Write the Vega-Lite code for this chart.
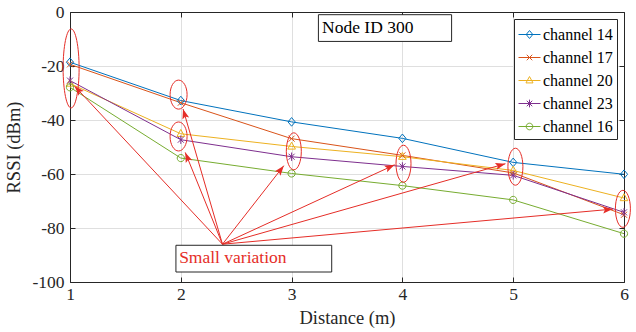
{
  "$schema": "https://vega.github.io/schema/vega-lite/v6.json",
  "width": 554,
  "height": 270,
  "autosize": "none",
  "padding": {"left": 70, "top": 12, "right": 12, "bottom": 50},
  "background": "white",
  "config": {
    "view": {"stroke": null},
    "font": "Liberation Serif",
    "axis": {
      "labelFont": "Liberation Serif",
      "titleFont": "Liberation Serif",
      "labelFontSize": 17.5,
      "titleFontSize": 18.5,
      "titleFontWeight": "normal",
      "labelColor": "#262626",
      "titleColor": "#262626",
      "domainColor": "#262626",
      "tickColor": "#262626",
      "gridColor": "#dfdfdf",
      "tickSize": -5
    }
  },
  "datasets": {
    "rssi": [
      {"distance": 1, "rssi": -18.6, "channel": "channel 14"},
      {"distance": 2, "rssi": -32.8, "channel": "channel 14"},
      {"distance": 3, "rssi": -40.7, "channel": "channel 14"},
      {"distance": 4, "rssi": -46.8, "channel": "channel 14"},
      {"distance": 5, "rssi": -55.7, "channel": "channel 14"},
      {"distance": 6, "rssi": -60.1, "channel": "channel 14"},
      {"distance": 1, "rssi": -19.4, "channel": "channel 17"},
      {"distance": 2, "rssi": -33.6, "channel": "channel 17"},
      {"distance": 3, "rssi": -46.9, "channel": "channel 17"},
      {"distance": 4, "rssi": -53.1, "channel": "channel 17"},
      {"distance": 5, "rssi": -59.6, "channel": "channel 17"},
      {"distance": 6, "rssi": -75.1, "channel": "channel 17"},
      {"distance": 1, "rssi": -26.5, "channel": "channel 20"},
      {"distance": 2, "rssi": -45.1, "channel": "channel 20"},
      {"distance": 3, "rssi": -49.8, "channel": "channel 20"},
      {"distance": 4, "rssi": -53.6, "channel": "channel 20"},
      {"distance": 5, "rssi": -58.7, "channel": "channel 20"},
      {"distance": 6, "rssi": -68.9, "channel": "channel 20"},
      {"distance": 1, "rssi": -25.4, "channel": "channel 23"},
      {"distance": 2, "rssi": -47.3, "channel": "channel 23"},
      {"distance": 3, "rssi": -53.6, "channel": "channel 23"},
      {"distance": 4, "rssi": -57.2, "channel": "channel 23"},
      {"distance": 5, "rssi": -60.5, "channel": "channel 23"},
      {"distance": 6, "rssi": -74.2, "channel": "channel 23"},
      {"distance": 1, "rssi": -27.9, "channel": "channel 16"},
      {"distance": 2, "rssi": -54.1, "channel": "channel 16"},
      {"distance": 3, "rssi": -59.8, "channel": "channel 16"},
      {"distance": 4, "rssi": -64.3, "channel": "channel 16"},
      {"distance": 5, "rssi": -69.6, "channel": "channel 16"},
      {"distance": 6, "rssi": -82.1, "channel": "channel 16"}
    ],
    "ellipses": [
      {"distance": 1.01, "rssi": -20.9, "kind": "tall"},
      {"distance": 1.98, "rssi": -30.6, "kind": "short"},
      {"distance": 1.98, "rssi": -46.1, "kind": "short"},
      {"distance": 3.02, "rssi": -51.6, "kind": "mid"},
      {"distance": 4.01, "rssi": -56.2, "kind": "mid"},
      {"distance": 5.02, "rssi": -57.3, "kind": "mid"},
      {"distance": 5.99, "rssi": -72.9, "kind": "mid"}
    ],
    "arrows": [
      {"x1": 2.376, "y1": -86.0, "x2": 1.04, "y2": -27.4},
      {"x1": 2.376, "y1": -86.0, "x2": 2.02, "y2": -35.9},
      {"x1": 2.376, "y1": -86.0, "x2": 2.04, "y2": -52.0},
      {"x1": 2.376, "y1": -86.0, "x2": 2.93, "y2": -56.9},
      {"x1": 2.376, "y1": -86.0, "x2": 3.93, "y2": -56.6},
      {"x1": 2.376, "y1": -86.0, "x2": 4.93, "y2": -56.2},
      {"x1": 2.376, "y1": -86.0, "x2": 5.90, "y2": -73.0}
    ],
    "boxes": [
      {"x": 3.242, "x2": 4.444, "y": -1.0, "y2": -10.9, "tx": 3.275, "ty": -5.9, "label": "Node ID 300", "role": "title"},
      {"x": 1.956, "x2": 3.362, "y": -86.4, "y2": -96.3, "tx": 1.985, "ty": -91.2, "label": "Small variation", "role": "note"}
    ]
  },
  "resolve": {"axis": {"x": "independent", "y": "independent"}},
  "layer": [
    {
      "data": {"name": "rssi"},
      "mark": {"type": "line", "strokeWidth": 1, "clip": true},
      "encoding": {
        "x": {"field": "distance", "type": "quantitative",
              "scale": {"domain": [1, 6], "nice": false, "zero": false},
              "axis": {"title": "Distance (m)", "values": [1, 2, 3, 4, 5, 6], "grid": true, "labelPadding": 8, "titlePadding": 6, "labelFlush": false}},
        "y": {"field": "rssi", "type": "quantitative",
              "scale": {"domain": [-100, 0], "nice": false, "zero": false},
              "axis": {"title": "RSSI (dBm)", "values": [-100, -80, -60, -40, -20, 0], "grid": true, "labelPadding": 11, "titlePadding": 8, "labelExpr": "'' + datum.value"}},
        "color": {"field": "channel", "type": "nominal",
                  "scale": {"domain": ["channel 14", "channel 17", "channel 20", "channel 23", "channel 16"],
                            "range": ["#0072BD", "#D95319", "#EDB120", "#7E2F8E", "#77AC30"]},
                  "legend": {
                    "orient": "top-right", "offset": 7, "title": null,
                    "padding": 4, "strokeColor": "#262626", "fillColor": "white",
                    "labelFont": "Liberation Serif", "labelFontSize": 16, "labelColor": "#000000",
                    "labelOffset": 2, "rowPadding": 3, "symbolSize": 484, "symbolStrokeWidth": 1,
                    "symbolFillColor": "transparent",
                    "labelExpr": "datum.label + '\u00a0\u00a0\u00a0\u00a0'",
                    "encode": {
                      "symbols": {
                      "enter": {
                        "shape": {"signal": "datum.value === 'channel 14' ? 'M-1,0L1,0M0,-0.36L0.3,0L0,0.36L-0.3,0Z' : datum.value === 'channel 17' ? 'M-1,0L1,0M-0.25,-0.25L0.25,0.25M-0.25,0.25L0.25,-0.25' : datum.value === 'channel 20' ? 'M-1,0L1,0M0,-0.36L0.32,0.22L-0.32,0.22Z' : datum.value === 'channel 23' ? 'M-1,0L1,0M-0.25,-0.25L0.25,0.25M-0.25,0.25L0.25,-0.25M0,-0.35L0,0.35' : 'M-1,0L1,0M-0.3,0A0.3,0.3,0,1,0,0.3,0A0.3,0.3,0,1,0,-0.3,0Z'"}
                      },
                      "update": {
                      "shape": {"signal": "datum.value === 'channel 14' ? 'M-1,0L1,0M0,-0.36L0.3,0L0,0.36L-0.3,0Z' : datum.value === 'channel 17' ? 'M-1,0L1,0M-0.25,-0.25L0.25,0.25M-0.25,0.25L0.25,-0.25' : datum.value === 'channel 20' ? 'M-1,0L1,0M0,-0.36L0.32,0.22L-0.32,0.22Z' : datum.value === 'channel 23' ? 'M-1,0L1,0M-0.25,-0.25L0.25,0.25M-0.25,0.25L0.25,-0.25M0,-0.35L0,0.35' : 'M-1,0L1,0M-0.3,0A0.3,0.3,0,1,0,0.3,0A0.3,0.3,0,1,0,-0.3,0Z'"},
                      "fill": {"value": "transparent"},
                      "stroke": {"scale": "color", "field": "value"},
                      "strokeWidth": {"value": 1},
                      "size": {"value": 484}
                    }}}
                  }}
      }
    },
    {
      "data": {"name": "rssi"},
      "transform": [{"filter": "datum.channel === 'channel 14'"}],
      "mark": {"type": "point", "filled": false, "size": 576, "strokeWidth": 1, "opacity": 1, "color": "#0072BD",
               "shape": "M0,-0.36L0.3,0L0,0.36L-0.3,0Z"},
      "encoding": {
        "x": {"field": "distance", "type": "quantitative", "axis": null},
        "y": {"field": "rssi", "type": "quantitative", "axis": null}
      }
    },
    {
      "data": {"name": "rssi"},
      "transform": [{"filter": "datum.channel === 'channel 17'"}],
      "mark": {"type": "point", "filled": false, "size": 576, "strokeWidth": 1, "opacity": 1, "color": "#D95319",
               "shape": "M-0.25,-0.25L0.25,0.25M-0.25,0.25L0.25,-0.25"},
      "encoding": {
        "x": {"field": "distance", "type": "quantitative", "axis": null},
        "y": {"field": "rssi", "type": "quantitative", "axis": null}
      }
    },
    {
      "data": {"name": "rssi"},
      "transform": [{"filter": "datum.channel === 'channel 20'"}],
      "mark": {"type": "point", "filled": false, "size": 576, "strokeWidth": 1, "opacity": 1, "color": "#EDB120",
               "shape": "M0,-0.36L0.32,0.22L-0.32,0.22Z"},
      "encoding": {
        "x": {"field": "distance", "type": "quantitative", "axis": null},
        "y": {"field": "rssi", "type": "quantitative", "axis": null}
      }
    },
    {
      "data": {"name": "rssi"},
      "transform": [{"filter": "datum.channel === 'channel 23'"}],
      "mark": {"type": "point", "filled": false, "size": 576, "strokeWidth": 1, "opacity": 1, "color": "#7E2F8E",
               "shape": "M-0.25,-0.25L0.25,0.25M-0.25,0.25L0.25,-0.25M0,-0.35L0,0.35"},
      "encoding": {
        "x": {"field": "distance", "type": "quantitative", "axis": null},
        "y": {"field": "rssi", "type": "quantitative", "axis": null}
      }
    },
    {
      "data": {"name": "rssi"},
      "transform": [{"filter": "datum.channel === 'channel 16'"}],
      "mark": {"type": "point", "filled": false, "size": 576, "strokeWidth": 1, "opacity": 1, "color": "#77AC30",
               "shape": "M-0.3,0A0.3,0.3,0,1,0,0.3,0A0.3,0.3,0,1,0,-0.3,0Z"},
      "encoding": {
        "x": {"field": "distance", "type": "quantitative", "axis": null},
        "y": {"field": "rssi", "type": "quantitative", "axis": null}
      }
    },
    {
      "data": {"name": "ellipses"},
      "transform": [{"filter": "datum.kind === 'tall'"}],
      "mark": {"type": "point", "filled": false, "size": 4, "color": "#e52d27", "strokeWidth": 1, "opacity": 1,
               "shape": "M-8,0A8,39.5,0,1,0,8,0A8,39.5,0,1,0,-8,0Z"},
      "encoding": {
        "x": {"field": "distance", "type": "quantitative", "axis": null},
        "y": {"field": "rssi", "type": "quantitative", "axis": null}
      }
    },
    {
      "data": {"name": "ellipses"},
      "transform": [{"filter": "datum.kind === 'short'"}],
      "mark": {"type": "point", "filled": false, "size": 4, "color": "#e52d27", "strokeWidth": 1, "opacity": 1,
               "shape": "M-8.5,0A8.5,14.5,0,1,0,8.5,0A8.5,14.5,0,1,0,-8.5,0Z"},
      "encoding": {
        "x": {"field": "distance", "type": "quantitative", "axis": null},
        "y": {"field": "rssi", "type": "quantitative", "axis": null}
      }
    },
    {
      "data": {"name": "ellipses"},
      "transform": [{"filter": "datum.kind === 'mid'"}],
      "mark": {"type": "point", "filled": false, "size": 4, "color": "#e52d27", "strokeWidth": 1, "opacity": 1,
               "shape": "M-7.5,0A7.5,18.5,0,1,0,7.5,0A7.5,18.5,0,1,0,-7.5,0Z"},
      "encoding": {
        "x": {"field": "distance", "type": "quantitative", "axis": null},
        "y": {"field": "rssi", "type": "quantitative", "axis": null}
      }
    },
    {
      "data": {"name": "arrows"},
      "mark": {"type": "rule", "color": "#e52d27", "strokeWidth": 1},
      "encoding": {
        "x": {"field": "x1", "type": "quantitative", "axis": null},
        "y": {"field": "y1", "type": "quantitative", "axis": null},
        "x2": {"field": "x2"},
        "y2": {"field": "y2"}
      }
    },
    {
      "data": {"name": "arrows"},
      "transform": [{"calculate": "atan2((datum.x2 - datum.x1) * 110.8, (datum.y2 - datum.y1) * 2.7) * 180 / PI", "as": "ang"}],
      "mark": {"type": "point", "filled": true, "size": 4, "color": "#e52d27", "opacity": 1, "strokeWidth": 0,
               "shape": "M0,0L-3.5,10L0,8L3.5,10Z"},
      "encoding": {
        "x": {"field": "x2", "type": "quantitative", "axis": null},
        "y": {"field": "y2", "type": "quantitative", "axis": null},
        "angle": {"field": "ang", "type": "quantitative", "scale": null}
      }
    },
    {
      "data": {"name": "boxes"},
      "mark": {"type": "rect", "fill": "white", "stroke": "#262626", "strokeWidth": 1},
      "encoding": {
        "x": {"field": "x", "type": "quantitative", "axis": null},
        "x2": {"field": "x2"},
        "y": {"field": "y", "type": "quantitative", "axis": null},
        "y2": {"field": "y2"}
      }
    },
    {
      "data": {"name": "boxes"},
      "transform": [{"filter": "datum.role === 'title'"}],
      "mark": {"type": "text", "font": "Liberation Serif", "fontSize": 17.5, "align": "left", "baseline": "middle", "color": "#000000"},
      "encoding": {
        "x": {"field": "tx", "type": "quantitative", "axis": null},
        "y": {"field": "ty", "type": "quantitative", "axis": null},
        "text": {"field": "label"}
      }
    },
    {
      "data": {"name": "boxes"},
      "transform": [{"filter": "datum.role === 'note'"}],
      "mark": {"type": "text", "font": "Liberation Serif", "fontSize": 17.5, "align": "left", "baseline": "middle", "color": "#e52d27"},
      "encoding": {
        "x": {"field": "tx", "type": "quantitative", "axis": null},
        "y": {"field": "ty", "type": "quantitative", "axis": null},
        "text": {"field": "label"}
      }
    },
    {
      "data": {"name": "rssi"},
      "mark": {"type": "point", "opacity": 0},
      "encoding": {
        "x": {"field": "distance", "type": "quantitative",
              "axis": {"orient": "top", "labels": false, "title": null, "grid": false, "values": [1, 2, 3, 4, 5, 6]}},
        "y": {"field": "rssi", "type": "quantitative",
              "axis": {"orient": "right", "labels": false, "title": null, "grid": false, "values": [-100, -80, -60, -40, -20, 0]}}
      }
    }
  ]
}
